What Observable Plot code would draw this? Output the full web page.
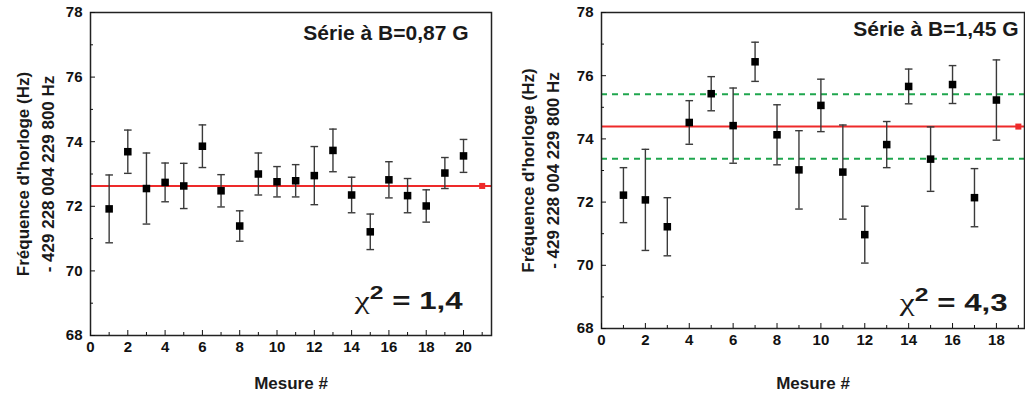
<!DOCTYPE html>
<html><head><meta charset="utf-8">
<script src="https://cdn.jsdelivr.net/npm/d3@7"></script>
<script src="https://cdn.jsdelivr.net/npm/@observablehq/plot@0.6"></script>
<style>
body{margin:0;background:#fff;}
#wrap{display:flex;width:1025px;height:394px;overflow:hidden;}
#wrap svg{display:block;flex:none;}
</style></head><body><div id="wrap"></div>
<script>
// ---- Panel A : B = 0,87 G ----
const measuresA = [1,2,3,4,5,6,7,8,9,10,11,12,13,14,15,16,17,18,19,20];
const valuesA = [71.92,73.69,72.55,72.74,72.63,73.86,72.48,71.39,73.00,72.76,72.79,72.95,73.73,72.35,71.21,72.82,72.33,72.01,73.03,73.56];
const errorsA = [1.05,0.67,1.10,0.60,0.70,0.66,0.50,0.47,0.65,0.47,0.50,0.90,0.66,0.55,0.55,0.56,0.53,0.50,0.48,0.51];
const meanA = 72.63;
const meanXA = 21;
const titleA = "Série à B=0,87 G";
const chiA = "χ2 = 1,4";
const xTicksA = [0,2,4,6,8,10,12,14,16,18,20];
const xMinorA = [1,3,5,7,9,11,13,15,17,19,21];

// ---- Panel B : B = 1,45 G ----
const measuresB = [1,2,3,4,5,6,7,8,9,10,11,12,13,14,15,16,17,18];
const valuesB = [72.22,72.07,71.22,74.52,75.43,74.42,76.44,74.13,73.02,75.06,72.95,70.97,73.82,75.66,73.36,75.72,72.14,75.23];
const errorsB = [0.87,1.60,0.92,0.69,0.54,1.19,0.62,0.95,1.24,0.83,1.49,0.90,0.73,0.55,1.02,0.60,0.92,1.27];
const meanB = 74.39;
const sigmaB = 1.02;
const meanXB = 19;
const titleB = "Série à B=1,45 G";
const chiB = "χ2 = 4,3";
const xTicksB = [0,2,4,6,8,10,12,14,16,18];
const xMinorB = [1,3,5,7,9,11,13,15,17,19];

// ---- shared ----
const yTicks = [68,70,72,74,76,78];
const yMinor = [69,71,73,75,77];
const yTitle = "Fréquence d'horloge (Hz)\n- 429 228 004 229 800 Hz";
const xTitle = "Mesure #";

const RED = "#ee2a2a", GREEN = "#1fa64e", BAR = "#3a3a3a", INK = "#1a1a1a";
const capSymbol = {draw(ctx, size){ const w = Math.sqrt(size)/2; ctx.moveTo(-w,0); ctx.lineTo(w,0); }};

function panel(o){
  const data = o.measures.map((m,i)=>({x:m, y:o.values[i], lo:o.values[i]-o.errors[i], hi:o.values[i]+o.errors[i]}));
  const caps = data.flatMap(d=>[{x:d.x,y:d.lo},{x:d.x,y:d.hi}]);
  const marks = [
    Plot.ruleY([o.mean], {stroke: RED, strokeWidth: 2}),
    ...(o.sigma ? [Plot.ruleY([o.mean - o.sigma, o.mean + o.sigma], {stroke: GREEN, strokeWidth: 2, strokeDasharray: "6,5"})] : []),
    Plot.ruleX(data, {x: "x", y1: "lo", y2: "hi", stroke: BAR, strokeWidth: 1.4}),
    Plot.dot(caps, {x: "x", y: "y", symbol: capSymbol, r: 4.3, stroke: BAR, strokeWidth: 1.4, fill: "none"}),
    Plot.dot(data, {x: "x", y: "y", symbol: "square", r: 4.25, fill: "#000", stroke: null}),
    Plot.dot([{x: o.meanX, y: o.mean}], {x: "x", y: "y", symbol: "square", r: 3.4, fill: RED, stroke: null}),
    Plot.frame({stroke: "#222", strokeWidth: 1.5}),
    Plot.axisX(o.xTicks, {anchor: "bottom", tickSize: -5, tickPadding: 11, fontSize: 15, fontWeight: "bold", label: null}),
    Plot.axisX(o.xMinor, {anchor: "bottom", tickSize: -3, tickFormat: () => "", label: null}),
    Plot.axisY(yTicks, {anchor: "left", tickSize: -5, tickPadding: 13, fontSize: 15, fontWeight: "bold", label: null}),
    Plot.axisY(yMinor, {anchor: "left", tickSize: -3, tickFormat: () => "", label: null}),
    Plot.text([yTitle], {frameAnchor: "left", dx: o.yTitleDx, rotate: -90, textAnchor: "middle", lineAnchor: "middle", lineHeight: 1.5, fontSize: 17, fontWeight: "bold", fill: INK}),
    Plot.text([xTitle], {frameAnchor: "bottom", dy: o.xTitleDy, lineAnchor: "bottom", fontSize: 17, fontWeight: "bold", fill: INK}),
    Plot.text([o.title], {frameAnchor: "top-right", textAnchor: "end", lineAnchor: "top", dx: o.titleDx, dy: o.titleDy, fontSize: 21, fontWeight: "bold", fill: INK}),
    Plot.text([o.chi], {frameAnchor: "bottom-right", textAnchor: "end", lineAnchor: "bottom", dx: o.chiDx, dy: o.chiDy, fontSize: 24, fontWeight: "bold", fill: INK})
  ];
  const svg = Plot.plot({
    width: o.width, height: 394,
    marginLeft: o.marginLeft, marginRight: o.marginRight, marginTop: 12, marginBottom: o.marginBottom,
    x: {domain: [0, o.xMax]}, y: {domain: [68, 78]},
    style: {fontFamily: "'Liberation Sans', Arial, sans-serif", background: "white", color: "#111"},
    marks
  });
  // format chi-square label: χ (regular) + superscript 2 + bold rest, slightly widened
  svg.querySelectorAll("text").forEach(t => {
    if (t.textContent === o.chi) {
      const x = t.getAttribute("x"), y = t.getAttribute("y");
      let tr = t.getAttribute("transform") || "";
      if (x !== null || y !== null) {
        tr = `translate(${x || 0},${y || 0}) ` + tr;
        t.removeAttribute("x"); t.removeAttribute("y");
      }
      t.setAttribute("transform", tr + " scale(1.3,1)");
      t.textContent = "";
      const ns = "http://www.w3.org/2000/svg";
      const parts = [
        {s: o.chi.slice(0,1), style: "font-family:'Liberation Serif',serif;font-weight:normal;font-size:26px"},
        {s: o.chi.slice(1,2), style: "font-size:19px", dy: -10},
        {s: o.chi.slice(2), style: "font-size:24px", dy: 10}
      ];
      parts.forEach(p => {
        const ts = document.createElementNS(ns, "tspan");
        ts.textContent = p.s;
        ts.setAttribute("style", p.style);
        if (p.dy) ts.setAttribute("dy", p.dy);
        t.appendChild(ts);
      });
    }
  });
  return svg;
}

const wrap = document.getElementById("wrap");
wrap.appendChild(panel({
  measures: measuresA, values: valuesA, errors: errorsA, mean: meanA, meanX: meanXA, sigma: null,
  title: titleA, chi: chiA, xTicks: xTicksA, xMinor: xMinorA, xMax: 21.5,
  width: 505, marginLeft: 90, marginRight: 14, marginBottom: 59,
  yTitleDx: -57, xTitleDy: 53, titleDx: -23, titleDy: 13, chiDx: -29, chiDy: -27
}));
wrap.appendChild(panel({
  measures: measuresB, values: valuesB, errors: errorsB, mean: meanB, meanX: meanXB, sigma: sigmaB,
  title: titleB, chi: chiB, xTicks: xTicksB, xMinor: xMinorB, xMax: 19.28,
  width: 520, marginLeft: 96, marginRight: 1, marginBottom: 66,
  yTitleDx: -63, xTitleDy: 60, titleDx: -6, titleDy: 9, chiDx: -17, chiDy: -18
}));
</script>
</body></html>
